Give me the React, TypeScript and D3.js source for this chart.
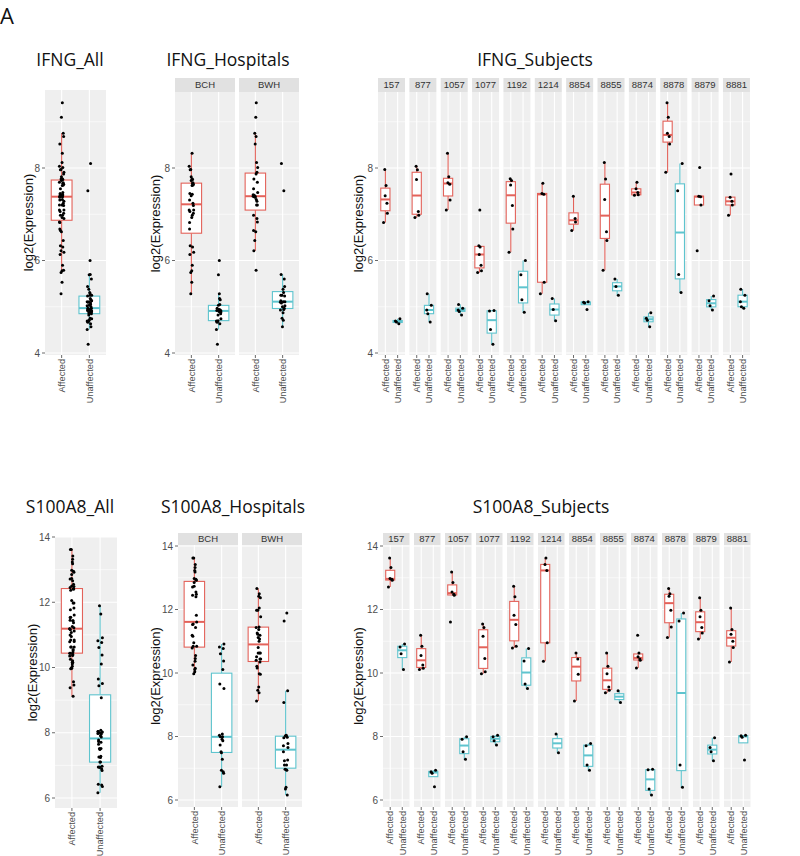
import React from "react";
import * as d3 from "d3";

// ---------- data ----------
const groups = ["Affected", "Unaffected"];
const subjects = ["157", "877", "1057", "1077", "1192", "1214", "8854", "8855", "8874", "8878", "8879", "8881"];
const subjectHospital = ["BCH", "BCH", "BCH", "BCH", "BCH", "BCH", "BWH", "BWH", "BWH", "BWH", "BWH", "BWH"];
const hospitals = ["BCH", "BWH"];

const ifngTicks = [4, 6, 8];
const s100Ticks = [6, 8, 10, 12, 14];

// log2(Expression) per subject
const ifngAffected = [
  [6.82, 7.02, 7.24, 7.4, 7.62, 7.97],
  [6.93, 6.98, 7.06, 7.75, 7.96, 8.04],
  [7.09, 7.31, 7.65, 7.68, 7.81, 8.32],
  [5.74, 5.78, 5.9, 6.13, 6.29, 6.32, 7.09],
  [6.18, 6.68, 7.19, 7.63, 7.73, 7.77],
  [5.28, 5.53, 7.43, 7.45, 7.67],
  [6.65, 6.83, 6.91, 7.39],
  [5.79, 6.43, 6.62, 7.32, 7.76, 8.12],
  [7.41, 7.42, 7.47, 7.55, 7.69],
  [7.91, 8.52, 8.68, 8.75, 9.1, 9.41],
  [6.21, 7.2, 7.38, 7.39, 8.01],
  [6.98, 7.2, 7.28, 7.37, 7.87],
];
const ifngUnaffected = [
  [4.63, 4.67, 4.69, 4.74],
  [4.67, 4.85, 4.93, 5.03, 5.28],
  [4.82, 4.9, 4.93, 4.97, 5.05],
  [4.19, 4.51, 4.91, 4.92],
  [4.88, 5.15, 5.69, 6.0],
  [4.7, 4.94, 5.18],
  [4.94, 5.08, 5.1, 5.11],
  [5.25, 5.44, 5.6],
  [4.57, 4.71, 4.75, 4.87],
  [5.31, 5.7, 7.51, 8.1],
  [4.93, 5.02, 5.13, 5.23],
  [4.97, 5.0, 5.11, 5.25, 5.38],
];
const s100Affected = [
  [12.71, 12.92, 12.95, 12.98, 13.32, 13.62],
  [10.11, 10.15, 10.25, 10.55, 10.84, 11.19],
  [11.61, 12.45, 12.48, 12.55, 12.85, 13.18],
  [9.98, 10.04, 10.46, 11.16, 11.43, 11.54],
  [10.79, 10.84, 11.53, 11.82, 12.4, 12.73],
  [10.37, 10.95, 13.23, 13.42, 13.62],
  [9.12, 9.96, 10.44, 10.63],
  [9.38, 9.46, 9.56, 9.98, 10.21, 10.63],
  [10.16, 10.4, 10.44, 10.51, 10.63, 11.19],
  [11.12, 11.45, 11.98, 12.42, 12.5, 12.66],
  [11.07, 11.26, 11.43, 11.77, 11.98, 12.37],
  [10.35, 10.8, 11.0, 11.22, 11.37, 12.05],
];
const s100Unaffected = [
  [10.11, 10.61, 10.82, 10.91],
  [6.42, 6.84, 6.89, 6.94],
  [7.28, 7.52, 7.91, 7.99],
  [7.73, 7.87, 7.99, 8.04],
  [9.51, 9.65, 10.38, 10.77],
  [7.49, 8.08],
  [6.94, 7.1, 7.71, 7.78],
  [9.07, 9.44],
  [6.16, 6.35, 6.95, 6.97],
  [6.4, 7.1, 11.64, 11.89],
  [7.24, 7.52, 7.65, 7.96],
  [7.26, 7.98, 8.02, 8.04],
];

// ---------- styling ----------
const COLORS = ["#E3625A", "#5EC4CE"];
const PANEL_BG = "#EFEFEF";
const STRIP_BG = "#E1E1E1";
const AXIS_FONT = "'Liberation Sans', Arial, sans-serif";
const TITLE_FONT = "'Open Sans', 'Noto Sans', sans-serif";
const JIT = [-1.8, 1.2, -0.6, 2.0, -1.2, 0.4, 1.6, -2.2, 0.9, -0.2, 2.3, -1.5, 0.7];

function boxStats(vals: number[]) {
  const s = [...vals].sort(d3.ascending);
  const q1 = d3.quantileSorted(s, 0.25) as number;
  const med = d3.quantileSorted(s, 0.5) as number;
  const q3 = d3.quantileSorted(s, 0.75) as number;
  const iqr = q3 - q1;
  const lo = d3.min(s.filter((v) => v >= q1 - 1.5 * iqr)) as number;
  const hi = d3.max(s.filter((v) => v <= q3 + 1.5 * iqr)) as number;
  return { q1, med, q3, lo, hi };
}

type PanelProps = {
  left: number;
  width: number;
  top: number;
  bottom: number;
  y: d3.ScaleLinear<number, number>;
  ticks: number[];
  data: number[][];
  strip?: string;
  stripTop?: number;
};

function Panel({ left, width, top, bottom, y, ticks, data, strip, stripTop }: PanelProps) {
  const x = d3.scalePoint<string>().domain(groups).range([left, left + width]).padding(0.6);
  const step = x.step();
  const bw = step * 0.75;
  const lo = y.invert(bottom);
  const hi = y.invert(top);
  const stepT = ticks[1] - ticks[0];
  const minors = [ticks[0] - stepT / 2, ...ticks.map((t) => t + stepT / 2)].filter((m) => m > lo && m < hi);
  const majors = ticks.filter((t) => t >= lo && t <= hi);
  return (
    <g>
      <rect x={left} y={top} width={width} height={bottom - top} fill={PANEL_BG} />
      {minors.map((m) => (
        <line key={"mi" + m} x1={left} x2={left + width} y1={y(m)} y2={y(m)} stroke="#fff" strokeWidth={0.6} />
      ))}
      {majors.map((m) => (
        <line key={"ma" + m} x1={left} x2={left + width} y1={y(m)} y2={y(m)} stroke="#fff" strokeWidth={1.1} />
      ))}
      {groups.map((g) => (
        <line key={"v" + g} x1={x(g)} x2={x(g)} y1={top} y2={bottom} stroke="#fff" strokeWidth={1.1} />
      ))}
      {groups.map((g, gi) => {
        const st = boxStats(data[gi]);
        const cx = x(g) as number;
        const c = COLORS[gi];
        return (
          <g key={"b" + g}>
            <line x1={cx} x2={cx} y1={y(st.q3)} y2={y(st.hi)} stroke={c} strokeWidth={1.1} />
            <line x1={cx} x2={cx} y1={y(st.q1)} y2={y(st.lo)} stroke={c} strokeWidth={1.1} />
            <rect x={cx - bw / 2} y={y(st.q3)} width={bw} height={y(st.q1) - y(st.q3)} fill="#fff" stroke={c} strokeWidth={1.1} />
            <line x1={cx - bw / 2} x2={cx + bw / 2} y1={y(st.med)} y2={y(st.med)} stroke={c} strokeWidth={2} />
          </g>
        );
      })}
      {groups.map((g, gi) =>
        data[gi].map((v, i) => (
          <circle key={"p" + g + i} cx={(x(g) as number) + JIT[(i * 3 + gi) % JIT.length]} cy={y(v)} r={1.5} fill="#000" />
        ))
      )}
      {strip !== undefined && stripTop !== undefined && (
        <g>
          <rect x={left} y={stripTop} width={width} height={top - stripTop} fill={STRIP_BG} />
          <text x={left + width / 2} y={(stripTop + top) / 2} dy="0.35em" textAnchor="middle" fontSize={9.5} fill="#333" fontFamily={AXIS_FONT}>
            {strip}
          </text>
        </g>
      )}
      {groups.map((g) => (
        <g key={"xt" + g}>
          <line x1={x(g)} x2={x(g)} y1={bottom} y2={bottom + 3} stroke="#444" strokeWidth={0.8} />
          <text transform={`translate(${x(g)},${bottom + 4}) rotate(-90)`} textAnchor="end" dy="0.35em" fontSize={9.2} fill="#4D4D4D" fontFamily={AXIS_FONT}>
            {g}
          </text>
        </g>
      ))}
    </g>
  );
}

function YAxis({ left, y, ticks, top, bottom, titleX }: { left: number; y: d3.ScaleLinear<number, number>; ticks: number[]; top: number; bottom: number; titleX: number }) {
  return (
    <g>
      {ticks.map((t) => (
        <g key={t}>
          <line x1={left - 3} x2={left} y1={y(t)} y2={y(t)} stroke="#444" strokeWidth={0.8} />
          <text x={left - 5} y={y(t)} dy="0.35em" textAnchor="end" fontSize={10} fill="#4D4D4D" fontFamily={AXIS_FONT}>
            {t}
          </text>
        </g>
      ))}
      <text transform={`translate(${titleX},${(top + bottom) / 2}) rotate(-90)`} textAnchor="middle" dy="0.35em" fontSize={13} fill="#111" fontFamily={AXIS_FONT}>
        log2(Expression)
      </text>
    </g>
  );
}

type RowCfg = {
  gene: string;
  ticks: number[];
  affected: number[][];
  unaffected: number[][];
  titleY: number;
  all: { left: number; width: number; top: number; bottom: number; y: d3.ScaleLinear<number, number>; titleX: number; titleCx: number };
  facet: { top: number; bottom: number; stripTop: number; y: d3.ScaleLinear<number, number> };
  hosp: { lefts: number[]; width: number; titleX: number; titleCx: number };
  subj: { left0: number; pitch: number; width: number; titleX: number; titleCx: number };
};

function GeneRow({ cfg }: { cfg: RowCfg }) {
  const allAff = cfg.affected.flat();
  const allUn = cfg.unaffected.flat();
  const hospData = hospitals.map((h) => [
    cfg.affected.filter((_, i) => subjectHospital[i] === h).flat(),
    cfg.unaffected.filter((_, i) => subjectHospital[i] === h).flat(),
  ]);
  const f = cfg.facet;
  const titleSize = 17.5;
  return (
    <g>
      <text x={cfg.all.titleCx} y={cfg.titleY} dy="0.35em" textAnchor="middle" fontSize={titleSize} fontFamily={TITLE_FONT} fill="#111">
        {cfg.gene}_All
      </text>
      <text x={cfg.hosp.titleCx} y={cfg.titleY} dy="0.35em" textAnchor="middle" fontSize={titleSize} fontFamily={TITLE_FONT} fill="#111">
        {cfg.gene}_Hospitals
      </text>
      <text x={cfg.subj.titleCx} y={cfg.titleY} dy="0.35em" textAnchor="middle" fontSize={titleSize} fontFamily={TITLE_FONT} fill="#111">
        {cfg.gene}_Subjects
      </text>

      <Panel left={cfg.all.left} width={cfg.all.width} top={cfg.all.top} bottom={cfg.all.bottom} y={cfg.all.y} ticks={cfg.ticks} data={[allAff, allUn]} />
      <YAxis left={cfg.all.left} y={cfg.all.y} ticks={cfg.ticks} top={cfg.all.top} bottom={cfg.all.bottom} titleX={cfg.all.titleX} />

      {hospitals.map((h, hi) => (
        <Panel key={h} left={cfg.hosp.lefts[hi]} width={cfg.hosp.width} top={f.top} bottom={f.bottom} y={f.y} ticks={cfg.ticks} data={hospData[hi]} strip={h} stripTop={f.stripTop} />
      ))}
      <YAxis left={cfg.hosp.lefts[0]} y={f.y} ticks={cfg.ticks} top={f.top} bottom={f.bottom} titleX={cfg.hosp.titleX} />

      {subjects.map((s, si) => (
        <Panel
          key={s}
          left={cfg.subj.left0 + si * cfg.subj.pitch}
          width={cfg.subj.width}
          top={f.top}
          bottom={f.bottom}
          y={f.y}
          ticks={cfg.ticks}
          data={[cfg.affected[si], cfg.unaffected[si]]}
          strip={s}
          stripTop={f.stripTop}
        />
      ))}
      <YAxis left={cfg.subj.left0} y={f.y} ticks={cfg.ticks} top={f.top} bottom={f.bottom} titleX={cfg.subj.titleX} />
    </g>
  );
}

export default function App() {
  const ifngY = d3.scaleLinear().domain([4, 8]).range([353, 168]);
  const topRow: RowCfg = {
    gene: "IFNG",
    ticks: ifngTicks,
    affected: ifngAffected,
    unaffected: ifngUnaffected,
    titleY: 60,
    all: { left: 45, width: 61, top: 90, bottom: 355, y: ifngY, titleX: 28, titleCx: 70 },
    facet: { top: 92, bottom: 355, stripTop: 78, y: ifngY },
    hosp: { lefts: [175, 239], width: 60, titleX: 155, titleCx: 228 },
    subj: { left0: 378, pitch: 31.36, width: 27, titleX: 358, titleCx: 535 },
  };
  const s100AllY = d3.scaleLinear().domain([6, 14]).range([798, 537]);
  const s100FacetY = d3.scaleLinear().domain([6, 14]).range([800, 546]);
  const botRow: RowCfg = {
    gene: "S100A8",
    ticks: s100Ticks,
    affected: s100Affected,
    unaffected: s100Unaffected,
    titleY: 507,
    all: { left: 55, width: 62, top: 537, bottom: 808, y: s100AllY, titleX: 32, titleCx: 70 },
    facet: { top: 545, bottom: 807, stripTop: 533, y: s100FacetY },
    hosp: { lefts: [178, 242], width: 60, titleX: 155, titleCx: 233 },
    subj: { left0: 383, pitch: 31, width: 26.5, titleX: 358, titleCx: 541 },
  };
  return (
    <svg width={800} height={856} style={{ position: "absolute", left: 0, top: 0, background: "#fff" }}>
      <text x={0} y={24} fontSize={22} fontFamily={TITLE_FONT} fill="#111">
        A
      </text>
      <GeneRow cfg={topRow} />
      <GeneRow cfg={botRow} />
    </svg>
  );
}
